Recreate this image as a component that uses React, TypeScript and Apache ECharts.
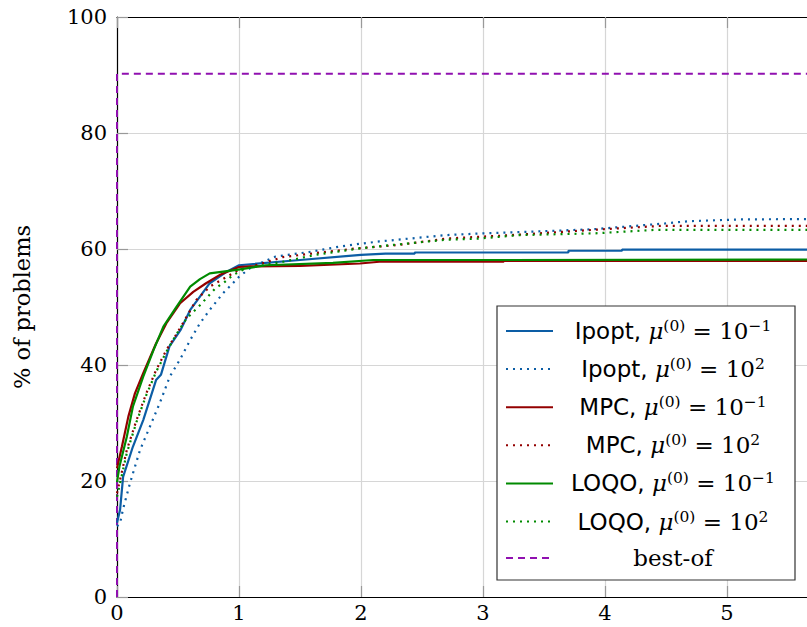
import React, { useEffect, useRef } from "react";
import * as echarts from "echarts";

const xTicks = [0, 1, 2, 3, 4, 5, 6];
const yTicks = [0, 20, 40, 60, 80, 100];

const seriesNames = [
  "Ipopt, μ(0) = 10−1",
  "Ipopt, μ(0) = 102",
  "MPC, μ(0) = 10−1",
  "MPC, μ(0) = 102",
  "LOQO, μ(0) = 10−1",
  "LOQO, μ(0) = 102",
  "best-of",
];

const ipoptSolid: number[][] = [
  [0, 12.8], [0.025, 15], [0.05, 20.7], [0.13, 25.9], [0.215, 30.5], [0.32, 37.4], [0.36, 38.3],
  [0.43, 43.2], [0.52, 46], [0.6, 49.5], [0.68, 51.8], [0.76, 54.1], [0.9, 56.1], [1.0, 57.2],
  [1.5, 58.1], [2.0, 59.0], [2.2, 59.2], [2.44, 59.2], [2.44, 59.4], [3.7, 59.4], [3.7, 59.7],
  [4.14, 59.7], [4.14, 59.9], [6, 59.9],
];
const ipoptDotted: number[][] = [
  [0, 12.2], [0.025, 12.7], [0.05, 15.2], [0.106, 19.6], [0.188, 25.3], [0.27, 29.4], [0.35, 33.4],
  [0.433, 38], [0.515, 40.9], [0.6, 44.3], [0.68, 47.2], [0.76, 49.5], [0.87, 52.4], [0.95, 54.1],
  [1.0, 55.2], [1.11, 57], [1.3, 58.7], [1.58, 59.5], [1.82, 60.4], [1.99, 60.9], [2.15, 61.3],
  [2.7, 62.4], [3.0, 62.7], [3.4, 63.0], [3.9, 63.4], [4.49, 64.4], [4.69, 64.8], [5.1, 65.1], [6, 65.2],
];
const mpcSolid: number[][] = [
  [0, 22.2], [0.04, 25.9], [0.093, 31.1], [0.147, 35.1], [0.215, 38.6], [0.32, 43.7], [0.405, 47.2],
  [0.515, 50.6], [0.625, 52.6], [0.73, 54.1], [0.84, 55.5], [1.0, 56.9], [1.09, 57.0], [1.5, 57.1],
  [1.99, 57.5], [2.15, 57.8], [3.17, 57.8], [3.17, 57.95], [6, 57.95],
];
const mpcDotted: number[][] = [
  [0, 17.9], [0.08, 25.3], [0.16, 30.5], [0.24, 35.1], [0.32, 39.1], [0.405, 42.6], [0.49, 45.4],
  [0.57, 48.3], [0.65, 51.2], [0.76, 53.5], [0.9, 55.2], [1.0, 56.4], [1.09, 56.9], [1.36, 58.6],
  [1.63, 59.3], [1.96, 60.1], [2.31, 60.7], [2.7, 61.8], [3.24, 62.4], [3.9, 63.3], [4.47, 64.0], [6, 64.0],
];
const loqoSolid: number[][] = [
  [0, 19.8], [0.02, 22.5], [0.08, 27.6], [0.13, 32.8], [0.215, 38], [0.3, 42.6], [0.38, 46.6],
  [0.49, 50.1], [0.6, 53.5], [0.68, 54.8], [0.76, 55.8], [0.98, 56.4], [1.22, 57.2], [1.77, 57.6],
  [2.1, 58.1], [3.0, 58.1], [3.0, 58.2], [6, 58.2],
];
const loqoDotted: number[][] = [
  [0, 17.3], [0.08, 24.8], [0.16, 30.2], [0.24, 34.8], [0.32, 38.8], [0.405, 42.3], [0.49, 45.4],
  [0.57, 48.0], [0.68, 50.3], [0.81, 53.3], [0.87, 54.1], [0.95, 55.5], [1.06, 56.7], [1.36, 57.8],
  [1.63, 59.0], [1.99, 60.1], [2.26, 60.7], [2.7, 61.6], [2.97, 61.8], [3.3, 62.4], [3.92, 62.7],
  [4.41, 63.3], [6, 63.3],
];
const bestOf: number[][] = [[0, 0], [0, 90.2], [6, 90.2]];

const seriesData = [ipoptSolid, ipoptDotted, mpcSolid, mpcDotted, loqoSolid, loqoDotted, bestOf];
const colors = ["#0c5da5", "#0c5da5", "#930000", "#930000", "#008a00", "#008a00", "#9010b0"];
const dashes: any[] = ["solid", [2, 5], "solid", [2, 5], "solid", [2, 5], [7, 5]];

const legendRich: Record<string, string> = {
  "Ipopt, μ(0) = 10−1": "{sf|Ipopt, }{mu|μ}{sup|(0)}{rm| = 10}{sup|−1}",
  "Ipopt, μ(0) = 102": "{sf|Ipopt, }{mu|μ}{sup|(0)}{rm| = 10}{sup|2}",
  "MPC, μ(0) = 10−1": "{sf|MPC, }{mu|μ}{sup|(0)}{rm| = 10}{sup|−1}",
  "MPC, μ(0) = 102": "{sf|MPC, }{mu|μ}{sup|(0)}{rm| = 10}{sup|2}",
  "LOQO, μ(0) = 10−1": "{sf|LOQO, }{mu|μ}{sup|(0)}{rm| = 10}{sup|−1}",
  "LOQO, μ(0) = 102": "{sf|LOQO, }{mu|μ}{sup|(0)}{rm| = 10}{sup|2}",
  "best-of": "{rm|best-of}",
};

const SERIF = "DejaVu Serif";
const SANS = "DejaVu Sans";

export default function App() {
  const ref = useRef<HTMLDivElement>(null);
  useEffect(() => {
    if (!ref.current) return;
    const chart = echarts.init(ref.current, null, { renderer: "svg" });
    const axisCommon = {
      min: xTicks[0],
      max: xTicks[xTicks.length - 1],
      interval: 1,
      type: "value" as const,
    };
    chart.setOption({
      animation: false,
      backgroundColor: "#fff",
      grid: {
        left: 117, top: 17, bottom: 30, right: -42,
        containLabel: false, outerBoundsMode: "none",
      },
      xAxis: [
        {
          ...axisCommon,
          position: "bottom",
          axisLine: { show: true, onZero: false, lineStyle: { color: "#000", width: 1.2 } },
          axisTick: { show: true, inside: true, length: 11, lineStyle: { color: "#999", width: 1.2 } },
          axisLabel: {
            color: "#000", fontFamily: SERIF, fontSize: 21, margin: 5,
            formatter: (v: number) => (v >= 6 ? "" : String(v)),
          },
          splitLine: { show: true, lineStyle: { color: "#d6d6d6", width: 1.2 } },
        },
        {
          ...axisCommon,
          position: "top",
          axisLine: { show: true, onZero: false, lineStyle: { color: "#000", width: 1.2 } },
          axisTick: { show: true, inside: true, length: 11, lineStyle: { color: "#999", width: 1.2 } },
          axisLabel: { show: false },
          splitLine: { show: false },
        },
      ],
      yAxis: [
        {
          type: "value",
          min: yTicks[0],
          max: yTicks[yTicks.length - 1],
          interval: 20,
          name: "% of problems",
          nameLocation: "middle",
          nameGap: 84,
          nameTextStyle: { color: "#000", fontFamily: SERIF, fontSize: 22.5 },
          axisLine: { show: true, onZero: false, lineStyle: { color: "#000", width: 1.2 } },
          axisTick: { show: true, inside: true, length: 11, lineStyle: { color: "#999", width: 1.2 } },
          axisLabel: { color: "#000", fontFamily: SERIF, fontSize: 21, margin: 10 },
          splitLine: { show: true, lineStyle: { color: "#d6d6d6", width: 1.2 } },
        },
      ],
      graphic: [
        {
          type: "rect",
          shape: { x: 497, y: 306, width: 298, height: 274 },
          style: { fill: "#fff", stroke: "#333", lineWidth: 1.2 },
          z: 50,
        },
      ],
      legend: {
        orient: "vertical",
        left: 497,
        top: 306,
        padding: [12, 8, 8, 8],
        itemGap: 13.6,
        itemWidth: 47,
        itemHeight: 14,
        borderWidth: 0,
        z: 60,
        selectedMode: false,
        itemStyle: { opacity: 0 },
        data: seriesNames,
        formatter: (name: string) => legendRich[name] || name,
        textStyle: {
          width: 230,
          rich: {
            sf: { fontFamily: SANS, fontSize: 23, color: "#000", align: "center", lineHeight: 26 },
            mu: { fontFamily: SERIF, fontStyle: "italic", fontSize: 23, color: "#000", align: "center", lineHeight: 26 },
            rm: { fontFamily: SERIF, fontSize: 23, color: "#000", align: "center", lineHeight: 26 },
            sup: { fontFamily: SERIF, fontSize: 15.5, color: "#000", align: "center", lineHeight: 14, verticalAlign: "top" },
          },
        },
      },
      series: seriesNames.map((name, i) => ({
        name,
        type: "line",
        xAxisIndex: 0,
        yAxisIndex: 0,
        data: seriesData[i],
        showSymbol: false,
        symbol: "none",
        color: colors[i],
        lineStyle: { color: colors[i], width: i === 6 ? 2 : 2.2, type: dashes[i], cap: "butt" },
        z: i === 6 ? 1 : 2 + i,
      })),
    });
    return () => chart.dispose();
  }, []);
  return (
    <div
      ref={ref}
      style={{ position: "fixed", left: 0, top: 0, width: 807, height: 627 }}
    />
  );
}
